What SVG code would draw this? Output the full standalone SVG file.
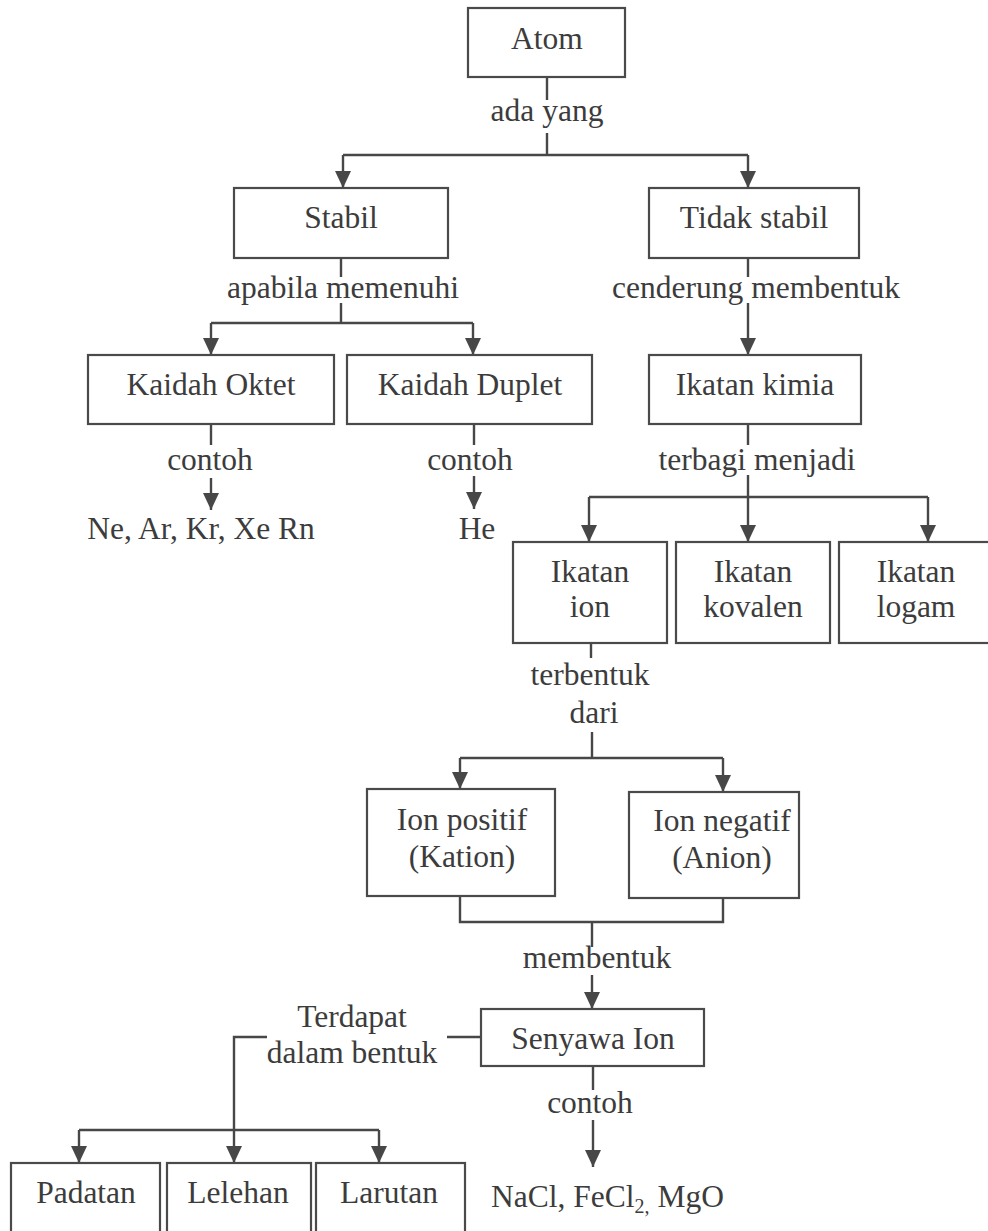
<svg xmlns="http://www.w3.org/2000/svg" width="988" height="1231" viewBox="0 0 988 1231">
<style>
.bg{fill:#ffffff}
.box{fill:none;stroke:#4a4a4a;stroke-width:2.2}
.t{font-family:"Liberation Serif","Times New Roman",serif;font-size:31.5px;fill:#3c3c3c;text-anchor:middle}
.ts{text-anchor:start}
.c{fill:none;stroke:#474747;stroke-width:2.4}
</style>
<defs>
<marker id="arr" viewBox="0 0 17 16" refX="17" refY="8" markerWidth="17" markerHeight="16" markerUnits="userSpaceOnUse" orient="auto">
<path d="M0 0 L17 8 L0 16 z" fill="#474747"/>
</marker>
</defs>
<rect class="bg" x="0" y="0" width="988" height="1231"/>

<g id="connectors">
<path class="c" d="M547 77 V100 M547 133 V155 M343 155 H748"/>
<path class="c" d="M343 155 V188" marker-end="url(#arr)"/>
<path class="c" d="M748 155 V188" marker-end="url(#arr)"/>
<path class="c" d="M341 258 V277 M341 303 V323 M211 323 H473"/>
<path class="c" d="M211 323 V355" marker-end="url(#arr)"/>
<path class="c" d="M473 323 V355" marker-end="url(#arr)"/>
<path class="c" d="M748 258 V277"/>
<path class="c" d="M748 303 V355" marker-end="url(#arr)"/>
<path class="c" d="M211 424 V445"/>
<path class="c" d="M211 478 V510" marker-end="url(#arr)"/>
<path class="c" d="M474 424 V445"/>
<path class="c" d="M474 476 V509" marker-end="url(#arr)"/>
<path class="c" d="M748 424 V445 M589 497 H928"/>
<path class="c" d="M748 475 V542" marker-end="url(#arr)"/>
<path class="c" d="M589 497 V542" marker-end="url(#arr)"/>
<path class="c" d="M928 497 V542" marker-end="url(#arr)"/>
<path class="c" d="M591 643 V658 M592 732 V758 M460 758 H723"/>
<path class="c" d="M460 758 V789" marker-end="url(#arr)"/>
<path class="c" d="M723 758 V792" marker-end="url(#arr)"/>
<path class="c" d="M460 896 V922 H723 V898 M592 922 V947"/>
<path class="c" d="M592 975 V1009" marker-end="url(#arr)"/>
<path class="c" d="M481 1037 H447 M267 1037 H234 V1130 M79 1130 H379"/>
<path class="c" d="M79 1130 V1163" marker-end="url(#arr)"/>
<path class="c" d="M234 1130 V1163" marker-end="url(#arr)"/>
<path class="c" d="M379 1130 V1163" marker-end="url(#arr)"/>
<path class="c" d="M593 1066 V1090"/>
<path class="c" d="M593 1120 V1167" marker-end="url(#arr)"/>
</g>

<g id="labels">
<text class="t" x="547" y="121">ada yang</text>
<text class="t" x="343" y="298">apabila memenuhi</text>
<text class="t" x="756" y="298">cenderung membentuk</text>
<text class="t" x="210" y="470">contoh</text>
<text class="t" x="470" y="470">contoh</text>
<text class="t" x="757" y="470">terbagi menjadi</text>
<text class="t" x="590" y="685">terbentuk</text>
<text class="t" x="594" y="723">dari</text>
<text class="t" x="597" y="968">membentuk</text>
<text class="t" x="352" y="1027">Terdapat</text>
<text class="t" x="352" y="1063">dalam bentuk</text>
<text class="t" x="590" y="1113">contoh</text>
</g>

<g id="atom"><rect class="box" x="468" y="8" width="157" height="69"/><text class="t" x="547" y="49">Atom</text></g>
<g id="stabil"><rect class="box" x="234" y="188" width="214" height="70"/><text class="t" x="341" y="228">Stabil</text></g>
<g id="tidak-stabil"><rect class="box" x="649" y="188" width="210" height="70"/><text class="t" x="754" y="228">Tidak stabil</text></g>
<g id="kaidah-oktet"><rect class="box" x="88" y="355" width="246" height="69"/><text class="t" x="211" y="395">Kaidah Oktet</text></g>
<g id="kaidah-duplet"><rect class="box" x="347" y="355" width="245" height="69"/><text class="t" x="470" y="395">Kaidah Duplet</text></g>
<g id="ikatan-kimia"><rect class="box" x="649" y="355" width="212" height="69"/><text class="t" x="755" y="395">Ikatan kimia</text></g>
<g id="contoh-oktet"><text class="t" x="201" y="539">Ne, Ar, Kr, Xe Rn</text></g>
<g id="contoh-duplet"><text class="t" x="477" y="539">He</text></g>
<g id="ikatan-ion"><rect class="box" x="513" y="542" width="154" height="101"/><text class="t" x="590" y="582">Ikatan</text><text class="t" x="590" y="617">ion</text></g>
<g id="ikatan-kovalen"><rect class="box" x="676" y="542" width="154" height="101"/><text class="t" x="753" y="582">Ikatan</text><text class="t" x="753" y="617">kovalen</text></g>
<g id="ikatan-logam"><rect class="box" x="839" y="542" width="156" height="101"/><text class="t" x="916" y="582">Ikatan</text><text class="t" x="916" y="617">logam</text></g>
<g id="ion-positif"><rect class="box" x="367" y="789" width="188" height="107"/><text class="t" x="462" y="830">Ion positif</text><text class="t" x="462" y="867">(Kation)</text></g>
<g id="ion-negatif"><rect class="box" x="629" y="792" width="170" height="106"/><text class="t" x="722" y="831">Ion negatif</text><text class="t" x="722" y="868">(Anion)</text></g>
<g id="senyawa-ion"><rect class="box" x="481" y="1009" width="223" height="57"/><text class="t" x="593" y="1049">Senyawa Ion</text></g>
<g id="contoh-senyawa"><text class="t ts" x="491" y="1207">NaCl, FeCl<tspan font-size="20" dy="6">2,</tspan><tspan dy="-6"> MgO</tspan></text></g>
<g id="padatan"><rect class="box" x="11" y="1163" width="149" height="80"/><text class="t" x="86" y="1203">Padatan</text></g>
<g id="lelehan"><rect class="box" x="167" y="1163" width="144" height="80"/><text class="t" x="238" y="1203">Lelehan</text></g>
<g id="larutan"><rect class="box" x="316" y="1163" width="149" height="80"/><text class="t" x="389" y="1203">Larutan</text></g>
</svg>
